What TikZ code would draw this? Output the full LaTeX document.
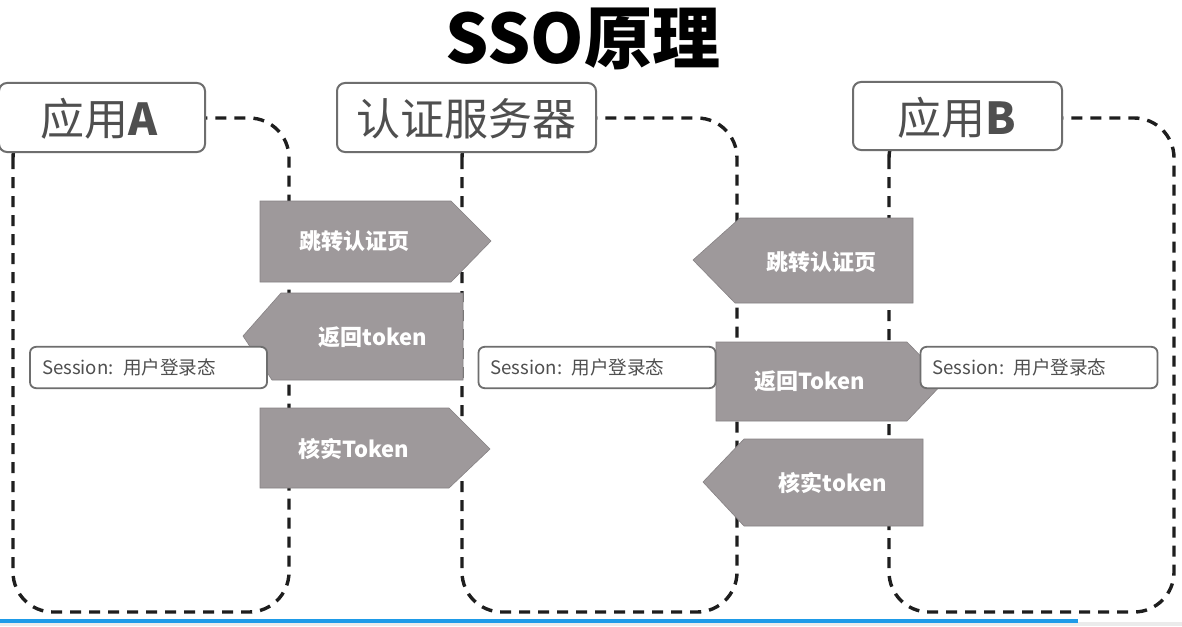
\documentclass[tikz,border=0pt]{standalone}
\usepackage{fontspec}
\setmainfont{Noto Sans CJK SC}
\definecolor{arrowgray}{HTML}{9E999B}
\definecolor{labelgray}{HTML}{4F4F4F}
\definecolor{boxline}{HTML}{6E6E6E}
\definecolor{dashcol}{HTML}{1E1E1E}
\definecolor{barblue}{HTML}{1E9BE8}
\tikzset{
  container/.style={draw=dashcol, line width=1.7pt, dash pattern=on 5.5pt off 4pt, rounded corners=20pt},
  labelbox/.style={draw=boxline, line width=1pt, fill=white, rounded corners=4pt, inner sep=0pt},
  labeltext/.style={text=labelgray, font=\fontsize{22}{22}\selectfont},
  sessbox/.style={draw=boxline, line width=0.9pt, fill=white, rounded corners=3pt, inner sep=6pt,
                  minimum height=20.5pt, text width=106.5pt, align=left, text=labelgray,
                  font=\fontsize{9.3}{9.3}\selectfont},
  flow/.style={fill=arrowgray, draw=arrowgray!85!black, line width=0.3pt},
  flowtext/.style={text=white, font=\fontsize{11}{11}\selectfont\bfseries}
}
\begin{document}
\begin{tikzpicture}[x=0.5pt, y=-0.5pt]
\useasboundingbox (0,0) rectangle (1182,626);
\fill[white] (0,0) rectangle (1182,626);

% title
\node[font=\fontsize{34}{34}\selectfont\bfseries] (title) at (583,39) {SSO原理};

% dashed containers
\draw[container] (13,118) rectangle (289,612);
\draw[container] (462,118) rectangle (737,612);
\draw[container] (889,118) rectangle (1174,612);

% label boxes
\node[labelbox, minimum width=103pt, minimum height=34.5pt] (la) at (102,117.5) {};
\node[labeltext] (lat) at (99,119) {应用\textbf{A}};
\node[labelbox, minimum width=129.5pt, minimum height=34.5pt] (ls) at (466.5,117.5) {};
\node[labeltext] (lst) at (466,119) {认证服务器};
\node[labelbox, minimum width=104.5pt, minimum height=34pt] (lb) at (957.5,116) {};
\node[labeltext] (lbt) at (957,118) {应用\textbf{B}};

% flow arrows, left pair
\fill[flow] (260,201) -- (451,201) -- (491,241) -- (451,282) -- (260,282) -- cycle;
\node[flowtext] (f1) at (354,241) {跳转认证页};
\fill[flow] (463,293) -- (281,293) -- (243,336) -- (272,380) -- (463,380) -- cycle;
\node[flowtext] (f2) at (373,337) {返回token};
\fill[flow] (260,408) -- (449,408) -- (490,449) -- (449,488) -- (260,488) -- cycle;
\node[flowtext] (f3) at (354,449) {核实Token};

% flow arrows, right side
\fill[flow] (913,218) -- (740,218) -- (693,260) -- (735,303) -- (913,303) -- cycle;
\node[flowtext] (f4) at (821,262) {跳转认证页};
\fill[flow] (716,342) -- (907,342) -- (945,381) -- (907,421) -- (716,421) -- cycle;
\node[flowtext] (f5) at (810,381) {返回Token};
\fill[flow] (923,439) -- (744,439) -- (703,482) -- (744,526) -- (923,526) -- cycle;
\node[flowtext] (f6) at (833,483) {核实token};

% session boxes
\node[sessbox] (sa) at (148.5,367.5) {Session: 用户登录态};
\node[sessbox] (ss) at (597,367.5) {Session: 用户登录态};
\node[sessbox] (sb) at (1039,367.5) {Session: 用户登录态};

% progress bar strip at bottom
\fill[black!8] (0,622) rectangle (1182,626);
\draw[barblue, line width=2pt] (0,621) -- (1078,621);
\end{tikzpicture}
\end{document}
